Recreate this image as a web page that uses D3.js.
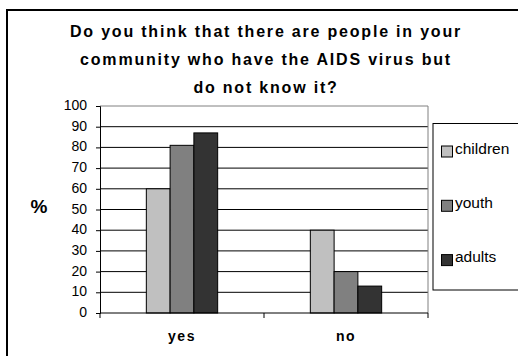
<!DOCTYPE html>
<html>
<head>
<meta charset="utf-8">
<script src="https://cdn.jsdelivr.net/npm/d3@7"></script>
<style>
  html, body { margin: 0; padding: 0; background: #fff; }
  svg { display: block; font-family: "Liberation Sans", Arial, sans-serif; }
</style>
</head>
<body>
<svg id="chart" width="518" height="356"></svg>
<script>
// Survey answers, percent of each group
const answers = ["yes", "no"];
const groups = ["children", "youth", "adults"];
const children = [60, 40];
const youth = [81, 20];
const adults = [87, 13];
const yTicks = [0, 10, 20, 30, 40, 50, 60, 70, 80, 90, 100];
const titleLines = [
  "Do you think that there are people in your",
  "community who have the AIDS virus but",
  "do not know it?"
];
const groupColors = ["#c0c0c0", "#808080", "#333333"];

const seriesValues = [children, youth, adults];

const svg = d3.select("#chart");

// outer chart frame (runs off the right and bottom edges)
svg.append("rect")
  .attr("x", 7).attr("y", 10)
  .attr("width", 530).attr("height", 360)
  .attr("fill", "none").attr("stroke", "#000").attr("stroke-width", 2);

// title
svg.append("g").selectAll("text").data(titleLines).join("text")
  .attr("x", 266)
  .attr("y", (d, i) => 36.5 + i * 28)
  .attr("text-anchor", "middle")
  .attr("font-size", 16)
  .attr("font-weight", "bold")
  .attr("letter-spacing", 1.8)
  .text(d => d);

const plot = { left: 100, right: 428, top: 106, bottom: 313 };

const x0 = d3.scaleBand().domain(answers).range([plot.left, plot.right]);
const x1 = d3.scaleBand().domain(groups)
  .range([0, x0.bandwidth() * 0.435]);
const y = d3.scaleLinear().domain([0, 100]).range([plot.bottom, plot.top]);

// horizontal grid lines
svg.append("g").selectAll("line").data(yTicks.filter(t => t > 0)).join("line")
  .attr("x1", plot.left).attr("x2", plot.right)
  .attr("y1", d => y(d)).attr("y2", d => y(d))
  .attr("stroke", d => d === 100 ? "#808080" : "#000")
  .attr("stroke-width", 1);

// right border of the plot area
svg.append("line")
  .attr("x1", plot.right).attr("x2", plot.right)
  .attr("y1", plot.top).attr("y2", plot.bottom)
  .attr("stroke", "#808080");

// bars
const groupOffset = (x0.bandwidth() - x1.range()[1]) / 2;
svg.append("g").selectAll("g").data(answers).join("g")
  .attr("transform", d => `translate(${x0(d) + groupOffset},0)`)
  .selectAll("rect")
  .data((d, i) => groups.map((g, k) => ({ g, k, v: seriesValues[k][i] })))
  .join("rect")
  .attr("x", d => x1(d.g))
  .attr("y", d => y(d.v))
  .attr("width", x1.bandwidth())
  .attr("height", d => y(0) - y(d.v))
  .attr("fill", d => groupColors[d.k])
  .attr("stroke", "#000")
  .attr("stroke-width", 1);

// y axis
const yAxis = svg.append("g")
  .attr("transform", `translate(${plot.left},0)`)
  .call(d3.axisLeft(y).tickValues(yTicks).tickSize(4).tickPadding(9));
yAxis.select(".domain").attr("stroke", "#000");
yAxis.selectAll("text").attr("font-size", 14).attr("fill", "#000")
  .attr("dy", "0.25em")
  .attr("font-family", "Liberation Sans, Arial, sans-serif");
yAxis.selectAll(".tick line").attr("stroke", "#000");

// x axis baseline and category separators
svg.append("line")
  .attr("x1", plot.left).attr("x2", plot.right)
  .attr("y1", plot.bottom).attr("y2", plot.bottom)
  .attr("stroke", "#000");
const sepTicks = answers.map(a => x0(a)).concat([plot.right]);
svg.append("g").selectAll("line").data(sepTicks).join("line")
  .attr("x1", d => d).attr("x2", d => d)
  .attr("y1", plot.bottom).attr("y2", plot.bottom + 5)
  .attr("stroke", "#000");

// category labels
svg.append("g").selectAll("text").data(answers).join("text")
  .attr("x", d => x0(d) + x0.bandwidth() / 2)
  .attr("y", 341)
  .attr("text-anchor", "middle")
  .attr("font-size", 14)
  .attr("font-weight", "bold")
  .attr("letter-spacing", 1.5)
  .text(d => d);

// y axis title
svg.append("text")
  .attr("x", 39).attr("y", 212.5)
  .attr("text-anchor", "middle")
  .attr("font-size", 19)
  .attr("font-weight", "bold")
  .text("%");

// legend
const legend = svg.append("g");
legend.append("rect")
  .attr("x", 433).attr("y", 123.5)
  .attr("width", 90).attr("height", 166.5)
  .attr("fill", "#fff").attr("stroke", "#000").attr("stroke-width", 1);
const items = legend.selectAll("g").data(groups).join("g")
  .attr("transform", (d, i) => `translate(441,${153.5 + i * 54.3})`);
items.append("rect")
  .attr("x", 0.5).attr("y", -7.5)
  .attr("width", 11).attr("height", 11)
  .attr("fill", (d, i) => groupColors[i])
  .attr("stroke", "#000");
items.append("text")
  .attr("x", 14).attr("y", 0)
  .attr("font-size", 15.5)
  .text(d => d);
</script>
</body>
</html>
